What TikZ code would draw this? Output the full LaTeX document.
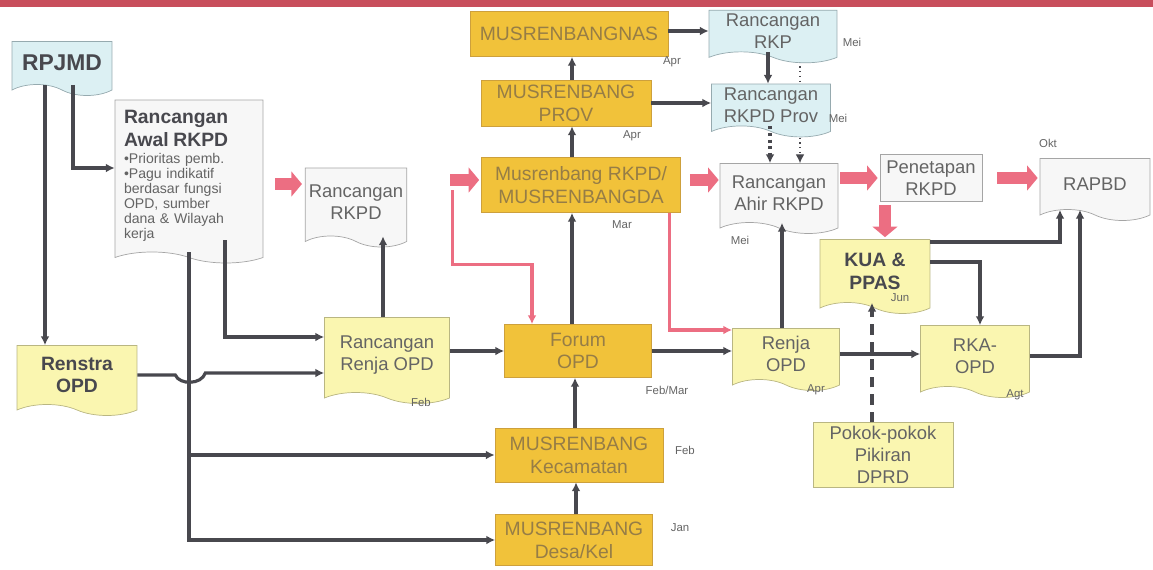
\documentclass[tikz,border=0pt]{standalone}
\usepackage{fontspec}
\setmainfont{Liberation Sans}
\usetikzlibrary{shapes.symbols, arrows.meta, calc, backgrounds}

\definecolor{orangeF}{RGB}{241,194,58}
\definecolor{orangeD}{RGB}{205,160,60}
\definecolor{yellowF}{RGB}{250,246,176}
\definecolor{yellowD}{RGB}{185,182,130}
\definecolor{blueF}{RGB}{220,240,243}
\definecolor{blueD}{RGB}{150,170,175}
\definecolor{whiteF}{RGB}{247,247,247}
\definecolor{greyD}{RGB}{165,165,165}
\definecolor{lineC}{RGB}{72,72,78}
\definecolor{pinkC}{RGB}{236,110,130}
\definecolor{txtC}{RGB}{100,100,100}
\definecolor{txtOr}{RGB}{150,125,70}
\definecolor{bandC}{RGB}{200,78,92}

\begin{document}
\begin{tikzpicture}[x=0.02cm, y=-0.02cm,
  every node/.style={inner sep=2pt},
  musbox/.style={rectangle, draw=orangeD, fill=orangeF, text=txtOr, align=center,
    font=\fontsize{11}{13}\selectfont},
  docbox/.style={tape, tape bend top=none, tape bend bottom=out and in,
    tape bend height=0.22cm, align=center, font=\fontsize{10.5}{12.5}\selectfont},
  bluedoc/.style={docbox, draw=blueD, fill=blueF, text=txtC},
  whitedoc/.style={docbox, draw=greyD, fill=whiteF, text=txtC},
  yelldoc/.style={docbox, draw=yellowD, fill=yellowF, text=txtC},
  conn/.style={draw=lineC, line width=1.8pt, -{Latex[length=5pt,width=5pt]}},
  pinkline/.style={draw=pinkC, line width=1.8pt, -{Latex[length=5pt,width=5pt]}},
  blockarr/.style={draw=pinkC, line width=6.5pt, -{Triangle[length=6pt,width=14pt]}},
  month/.style={font=\fontsize{6.5}{7}\selectfont, text=txtC, inner sep=0pt}
]
\useasboundingbox (0,0) rectangle (1153,569);
\fill[bandC] (0,0) rectangle (1153,7);

% left column
\node[bluedoc, minimum width=2cm, minimum height=1.08cm, text=lineC,
  font=\fontsize{13}{15}\selectfont\bfseries] (rpjmd) at (62,63) {RPJMD};
\node[whitedoc, minimum width=2.96cm, minimum height=3.26cm, text width=2.6cm, align=left,
  font=\fontsize{8}{8.6}\selectfont] (awal) at (189,176)
  {{\fontsize{11}{8.6}\selectfont\bfseries\color{lineC}Rancangan}\\[1.5pt]
   {\fontsize{11}{8.6}\selectfont\bfseries\color{lineC}Awal RKPD}\\[1pt]
   \textbullet Prioritas pemb.\\ \textbullet Pagu indikatif\\ berdasar fungsi\\
   OPD, sumber\\ dana \& Wilayah\\ kerja};
\node[yelldoc, minimum width=2.4cm, minimum height=1.4cm, text=lineC,
  font=\fontsize{11}{13}\selectfont\bfseries] (renstra) at (77,375) {Renstra\\OPD};
\node[whitedoc, minimum width=1.74cm, minimum height=1.58cm] (rrkpd) at (356,202) {Rancangan\\RKPD};
\node[yelldoc, minimum width=2.5cm, minimum height=1.72cm] (renjar) at (387,355) {Rancangan\\Renja OPD};

% musrenbang column
\node[musbox, minimum width=3.96cm, minimum height=0.9cm] (nas) at (569,34) {MUSRENBANGNAS};
\node[musbox, minimum width=3.4cm, minimum height=0.92cm] (prov) at (566,103) {MUSRENBANG\\PROV};
\node[musbox, minimum width=3.98cm, minimum height=1.1cm] (mda) at (581,185) {Musrenbang RKPD/\\MUSRENBANGDA};
\node[musbox, minimum width=2.94cm, minimum height=1.06cm] (forum) at (578,351) {Forum\\OPD};
\node[musbox, minimum width=3.36cm, minimum height=1.08cm] (kec) at (579,455) {MUSRENBANG\\Kecamatan};
\node[musbox, minimum width=3.14cm, minimum height=1.02cm] (desa) at (574,540) {MUSRENBANG\\Desa/Kel};

% right part
\node[bluedoc, minimum width=2.56cm, minimum height=0.86cm] (rkp) at (773,31) {Rancangan\\RKP};
\node[bluedoc, minimum width=2.38cm, minimum height=1cm] (rkpdprov) at (771,105) {Rancangan\\RKPD Prov};
\node[whitedoc, minimum width=2.36cm, minimum height=1.4cm] (ahir) at (779,193) {Rancangan\\Ahir RKPD};
\node[rectangle, draw=greyD, fill=whiteF, text=txtC, align=center, font=\fontsize{10.5}{12.5}\selectfont,
  minimum width=2.04cm, minimum height=0.94cm] (penetapan) at (931,178) {Penetapan\\RKPD};
\node[whitedoc, minimum width=2.2cm, minimum height=1.24cm] (rapbd) at (1095,184) {RAPBD};
\node[yelldoc, minimum width=2.2cm, minimum height=1.48cm, text=lineC,
  font=\fontsize{11}{13}\selectfont\bfseries] (kua) at (875,271) {KUA \&\\PPAS};
\node[yelldoc, minimum width=2.14cm, minimum height=1.24cm] (renja) at (786,354) {Renja\\OPD};
\node[yelldoc, minimum width=2.18cm, minimum height=1.44cm] (rka) at (975,356) {RKA-\\OPD};
\node[rectangle, draw=yellowD, fill=yellowF, text=txtC, align=center, font=\fontsize{10.5}{12.5}\selectfont,
  minimum width=2.8cm, minimum height=1.26cm] (pokir) at (883,455) {Pokok-pokok\\Pikiran\\DPRD};

% months
\foreach \i/\pos/\txt in {1/{672,62}/Apr, 2/{632,136}/Apr, 3/{622,225}/Mar, 4/{852,42}/Mei,
    5/{838,118}/Mei, 6/{740,240}/Mei, 7/{1048,143}/Okt, 8/{900,298}/Jun, 9/{421,402}/Feb,
    10/{667,390}/{Feb/Mar}, 11/{816,390}/Apr, 12/{1015,395}/Agt, 13/{685,450}/Feb, 14/{680,528}/Jan}
  \node[month] (mon\i) at (\pos) {\txt};

% connectors
\draw[conn] ($(rpjmd.south)+(-17,0)$) -- ($(renstra.north)+(-32,0)$);
\draw[conn] ($(rpjmd.south)+(11,0)$) |- ($(awal.west)+(0,-8)$);
\draw[conn] (awal.south) |- (desa.west);
\draw[conn] (awal.south |- kec.west) -- (kec.west);
\draw[conn] ($(awal.south)+(36,-12)$) |- ($(renjar.west)+(0,-18)$);
\draw[conn] (renstra.east) -- ($(renstra.east)+(38,0)$)
  .. controls ($(renstra.east)+(42,10)$) and ($(renstra.east)+(64,10)$) .. ($(renstra.east)+(68,-2)$)
  -- ($(renjar.west)+(0,18)$);
\draw[conn] ($(renjar.north)+(-4,0)$) -- ($(rrkpd.south)+(27,0)$);
\draw[conn] (renjar.east |- forum.west) -- (forum.west);
\draw[conn] (forum.north -| 572,0) -- (mda.south -| 572,0);
\draw[conn] (mda.north -| 572,0) -- (prov.south -| 572,0);
\draw[conn] (prov.north -| 572,0) -- (nas.south -| 572,0);
\draw[conn] (kec.north -| 575,0) -- (forum.south -| 575,0);
\draw[conn] (desa.north -| 576,0) -- (kec.south -| 576,0);
\draw[conn] (rkp.west -| nas.east) -- (rkp.west);
\draw[conn] (prov.east) -- (prov.east -| rkpdprov.west);
\draw[conn] ($(rkp.south)+(-5,0)$) -- ($(rkpdprov.north)+(-3,0)$);
\begin{scope}[on background layer]
\draw[conn, line width=0.7pt, dotted] ($(rkp.south)+(27,0)$) -- ($(ahir.north)+(21,0)$);
\end{scope}
\draw[conn, dotted] ($(rkpdprov.south)+(-1,0)$) -- ($(ahir.north)+(-9,0)$);
\draw[conn] (forum.east) -- (forum.east -| renja.west);
\draw[conn] ($(renja.north)+(-4,0)$) -- ($(ahir.south)+(3,0)$);
\draw[conn] (renja.east) -- (renja.east -| rka.west);
\draw[conn] ($(kua.east)+(0,-29)$) -| ($(rapbd.south)+(-35,0)$);
\draw[conn] ($(kua.east)+(0,-9)$) -| ($(rka.north)+(5,0)$);
\draw[conn] (rka.east) -| ($(rapbd.south)+(-15,0)$);
\draw[conn, dash pattern=on 6pt off 4pt] ($(pokir.north)+(-11,0)$) -- ($(kua.south)+(-3,0)$);

% pink flow
\draw[blockarr] ($(awal.east)+(12,8)$) -- ($(rrkpd.west)+(-3,-18)$);
\draw[blockarr] ($(rrkpd.east)+(43,-22)$) -- ($(mda.west)+(-2,-5)$);
\draw[blockarr] ($(mda.east)+(9,-5)$) -- ($(ahir.west)+(-1,-13)$);
\draw[blockarr] ($(ahir.east)+(2,-15)$) -- ($(penetapan.west)+(-2,0)$);
\draw[blockarr] ($(penetapan.east)+(15,0)$) -- ($(rapbd.west)+(-2,-6)$);
\draw[blockarr] ($(penetapan.south)+(-46,3)$) -- ($(kua.north)+(10,-2)$);
\draw[pinkline] ($(mda.west)+(-29,5)$) |- ($(forum.north)+(-46,-60)$) -- ($(forum.north)+(-46,0)$);
\draw[pinkline] ($(mda.south east)+(-11,0)$) |- ($(renja.west)+(0,-24)$);
\end{tikzpicture}
\end{document}
